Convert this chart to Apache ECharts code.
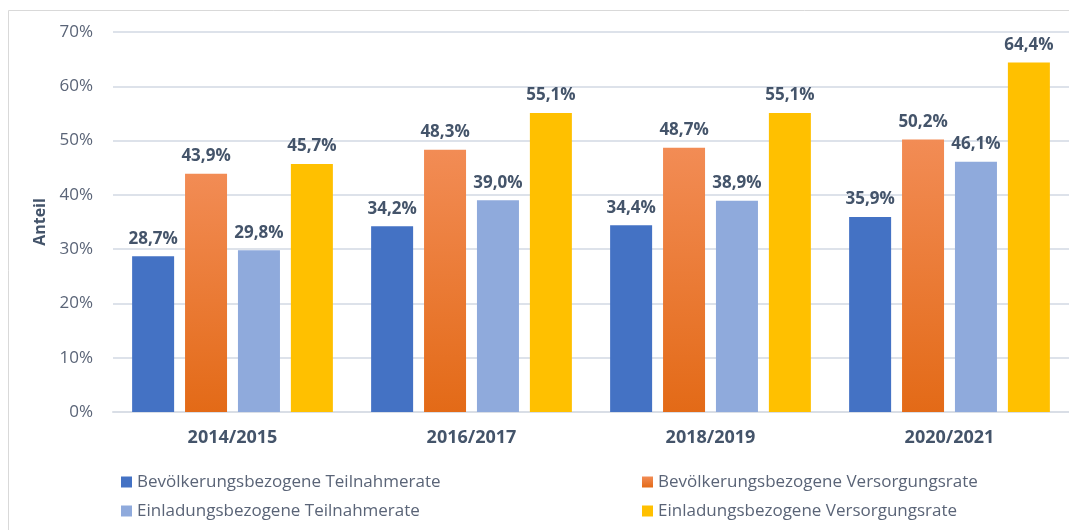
<!DOCTYPE html>
<html lang="de">
<head>
  <meta charset="UTF-8">
  <title>Teilnahme- und Versorgungsraten</title>
  <style>
    html, body { margin: 0; padding: 0; background: #fff; }
    #chart { width: 1069px; height: 530px; }
  </style>
</head>
<body>
  <div id="chart"></div>
  <script src="https://cdn.jsdelivr.net/npm/echarts@6/dist/echarts.min.js"></script>
  <script>
    const categories = ['2014/2015', '2016/2017', '2018/2019', '2020/2021']
    const bevTeilnahme = [28.7, 34.2, 34.4, 35.9]
    const bevVersorgung = [43.9, 48.3, 48.7, 50.2]
    const einTeilnahme = [29.8, 39.0, 38.9, 46.1]
    const einVersorgung = [45.7, 55.1, 55.1, 64.4]
    const yTicks = [0, 10, 20, 30, 40, 50, 60, 70]

    const font = '"Open Sans", "Noto Sans", sans-serif'
    const labelColor = '#44546A'
    const axisColor = '#5A6477'

    const barLabel = {
      show: true,
      position: 'top',
      distance: 9,
      color: labelColor,
      fontFamily: font,
      fontWeight: 'bold',
      fontSize: 17,
      formatter: p => p.value.toFixed(1).replace('.', ',') + '%'
    }

    const mkSeries = (name, data, color) => ({
      name,
      type: 'bar',
      data,
      barWidth: 42,
      barGap: '26%',
      itemStyle: { color },
      label: barLabel
    })

    const orange = new echarts.graphic.LinearGradient(0, 0, 0, 1, [
      { offset: 0, color: '#F28C55' },
      { offset: 1, color: '#E36A17' }
    ])

    const legendText = { color: axisColor, fontFamily: font, fontSize: 17, lineHeight: 18 }

    const option = {
      animation: false,
      graphic: [{
        type: 'rect',
        shape: { x: 8.5, y: 10.5, width: 1200, height: 600 },
        style: { fill: 'none', stroke: '#D9D9D9', lineWidth: 1 },
        silent: true
      }],
      grid: { left: 113, right: -4, top: 32, bottom: 118 },
      legend: [
        {
          orient: 'vertical', left: 116, top: 468,
          itemWidth: 11, itemHeight: 11, itemGap: 11,
          icon: 'rect', textStyle: legendText,
          data: ['Bevölkerungsbezogene Teilnahmerate', 'Einladungsbezogene Teilnahmerate']
        },
        {
          orient: 'vertical', left: 637, top: 468,
          itemWidth: 11, itemHeight: 11, itemGap: 11,
          icon: 'rect', textStyle: legendText,
          data: ['Bevölkerungsbezogene Versorgungsrate', 'Einladungsbezogene Versorgungsrate']
        }
      ],
      xAxis: {
        type: 'category',
        data: categories,
        axisTick: { show: false },
        axisLine: { lineStyle: { color: '#D9DEE6', width: 2 } },
        axisLabel: {
          margin: 17, color: labelColor, fontFamily: font,
          fontWeight: 'bold', fontSize: 18
        }
      },
      yAxis: {
        type: 'value',
        min: yTicks[0],
        max: yTicks[yTicks.length - 1],
        interval: 10,
        name: 'Anteil',
        nameLocation: 'middle',
        nameGap: 62,
        nameRotate: 90,
        nameTextStyle: { color: labelColor, fontFamily: font, fontWeight: 'bold', fontSize: 16 },
        axisLabel: {
          margin: 20, color: axisColor, fontFamily: font, fontSize: 17,
          formatter: v => v + '%'
        },
        splitLine: { lineStyle: { color: '#DDE2EA', width: 2 } }
      },
      series: [
        mkSeries('Bevölkerungsbezogene Teilnahmerate', bevTeilnahme, '#4472C4'),
        mkSeries('Bevölkerungsbezogene Versorgungsrate', bevVersorgung, orange),
        mkSeries('Einladungsbezogene Teilnahmerate', einTeilnahme, '#8FAADC'),
        mkSeries('Einladungsbezogene Versorgungsrate', einVersorgung, '#FFC000')
      ]
    }

    const myChart = echarts.init(document.getElementById('chart'))
    myChart.setOption(option)
  </script>
</body>
</html>
